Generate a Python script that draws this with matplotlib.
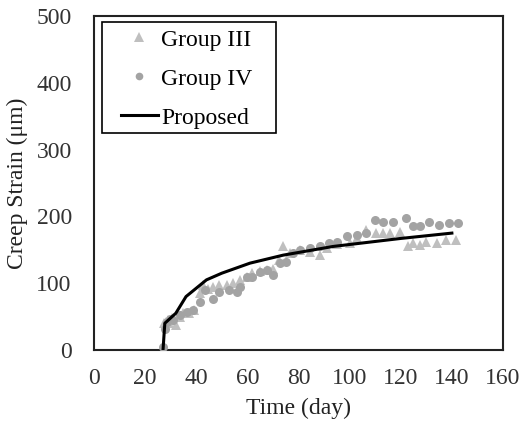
import matplotlib
matplotlib.use("Agg")
import matplotlib.pyplot as plt
from matplotlib.lines import Line2D
from matplotlib.patches import Rectangle

plt.rcParams['font.family'] = ['Liberation Serif', 'DejaVu Serif']

# Group III (triangles)
g3_day = [27, 27.3, 28, 28.8, 29.5, 30.5, 32, 33.5, 35, 37, 39, 41.4, 42.7, 44.5, 46.6, 49, 52, 54.5,
          57, 60, 62, 65, 67.5, 70, 72.5, 74, 76.6, 80.5, 84.4, 88.3, 91, 95, 100, 103, 106.6, 110.5,
          113, 115.7, 119.6, 122.9, 124.8, 127.4, 130, 134, 137.8, 141.8]
g3_val = [2, 40, 42, 45, 40, 48, 37, 50, 55, 55, 60, 85, 97, 92, 95, 97, 97, 100,
          105, 110, 115, 118, 120, 122, 135, 155, 145, 150, 147, 142, 152, 158, 160, 168, 180, 175,
          175, 175, 177, 155, 160, 157, 162, 160, 165, 165]

# Group IV (circles)
g4_day = [27, 27.8, 28.4, 29.7, 31, 33.6, 36.2, 38.8, 41.4, 43.4, 46.6, 49, 53, 55.8, 57, 60, 62,
          65, 67.5, 70, 72.7, 75.3, 78, 80.5, 84.4, 88.3, 92, 95, 98.8, 102.7, 106.6, 110, 113,
          117, 122, 124.8, 127.4, 131, 135, 139, 142.4]
g4_val = [5, 32, 42, 47, 45, 52, 57, 60, 72, 90, 77, 87, 90, 87, 95, 110, 110,
          117, 120, 112, 130, 132, 145, 150, 152, 155, 160, 162, 170, 172, 175, 195, 192,
          192, 197, 185, 185, 192, 187, 190, 190]

# Proposed model
pr_day = [27, 27.7, 32, 36, 44, 50, 61, 74, 93.5, 120, 140]
pr_val = [0, 40, 55, 80, 105, 115, 130, 142, 155, 167, 175]

x_ticks = [0, 20, 40, 60, 80, 100, 120, 140, 160]
y_ticks = [0, 100, 200, 300, 400, 500]

W, H = 529, 426
fig = plt.figure(figsize=(W/100, H/100), dpi=100)
ax = fig.add_axes([94/W, 76/H, 409/W, 334/H])

ax.plot(g3_day, g3_val, linestyle='none', marker='^', markersize=7.5, color='#BFBFBF',
        markeredgewidth=0, label='Group III', zorder=2)
ax.plot(g4_day, g4_val, linestyle='none', marker='o', markersize=6.5, color='#A3A3A3',
        markeredgewidth=0, label='Group IV', zorder=3)
ax.plot(pr_day, pr_val, color='black', linewidth=2.2, label='Proposed', zorder=4)

ax.set_xlim(0, 160)
ax.set_ylim(0, 500)
ax.set_xticks(x_ticks)
ax.set_yticks(y_ticks)
ax.tick_params(length=0, labelsize=17, colors='#333333')
ax.tick_params(axis='y', pad=16)
ax.tick_params(axis='x', pad=13)
for s in ax.spines.values():
    s.set_color('#222222')
    s.set_linewidth(1.5)

ax.set_xlabel('Time (day)', fontsize=17, color='#222222', labelpad=6)
ax.set_ylabel('Creep Strain (μm)', fontsize=17, color='#222222', labelpad=6)

handles = [
    Line2D([], [], linestyle='none', marker='^', markersize=6.5, color='#BFBFBF', markeredgewidth=0),
    Line2D([], [], linestyle='none', marker='o', markersize=5.5, color='#A3A3A3', markeredgewidth=0),
    Line2D([], [], color='black', linewidth=2.2),
]
leg = fig.legend(handles, ['Group III', 'Group IV', 'Proposed'], loc='upper left',
                 bbox_to_anchor=(121/W, 1 - 29/H), fontsize=17, frameon=False,
                 handlelength=1.55, handletextpad=0.15, labelspacing=0.74, borderpad=0,
                 borderaxespad=0)
fig.add_artist(Rectangle((102/W, 1 - 133/H), 174/W, 111/H, transform=fig.transFigure,
                         facecolor='none', edgecolor='black', linewidth=1.2, zorder=5))

fig.savefig('out.png', dpi=100)
